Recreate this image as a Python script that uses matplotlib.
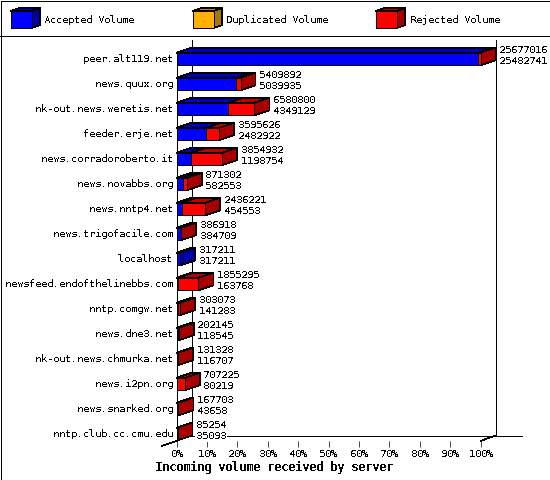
#!/usr/bin/env python3

"""
Incoming volume received by server - pseudo 3D stacked bars
"""

import matplotlib
matplotlib.use('Agg')
import matplotlib.pyplot as plt
from matplotlib.patches import Polygon, Rectangle

servers = [
    'peer.alt119.net', 'news.quux.org', 'nk-out.news.weretis.net',
    'feeder.erje.net', 'news.corradoroberto.it', 'news.novabbs.org',
    'news.nntp4.net', 'news.trigofacile.com', 'localhost',
    'newsfeed.endofthelinebbs.com', 'nntp.comgw.net', 'news.dne3.net',
    'nk-out.news.chmurka.net', 'news.i2pn.org', 'news.snarked.org',
    'nntp.club.cc.cmu.edu',
]
total_volume = [
    25677016, 5409892, 6580800, 3595626, 3854932, 871302, 2436221, 386918,
    317211, 1855295, 303073, 202145, 131328, 707225, 167703, 85254,
]
accepted_volume = [
    25482741, 5039935, 4349129, 2482922, 1198754, 582553, 454553, 384709,
    317211, 163768, 141283, 118545, 116707, 80219, 43658, 35093,
]
pct_ticks = list(range(0, 101, 10))
legend_labels = ['Accepted Volume', 'Duplicated Volume', 'Rejected Volume']

BLUE, BLUE_TOP, BLUE_SIDE = '#0000ff', '#0000c0', '#0000a8'
RED, RED_TOP, RED_SIDE = '#ff0000', '#c00000', '#a80000'
ORANGE, ORANGE_TOP, ORANGE_SIDE = '#ffb000', '#c08800', '#a87800'

W, H = 550, 480
LEFT, RIGHT = 176.5, 480.5  # 0% and 100% on the front plane, pixels
TOP, BOTTOM = 53, 441       # front plane, pixels
DX, DY = 15, 5              # depth of the 3D effect, pixels
ROW_H, BAR_H = 25, 12.5
LW = 0.5                    # thin enough for one pixel without antialiasing
FS = 7.2
EDGE = dict(ec='black', lw=LW, antialiased=False, clip_on=False)

plt.rcParams['font.family'] = ['DejaVu Sans Mono']
plt.rcParams['text.antialiased'] = False
plt.rcParams['text.hinting'] = 'native'
plt.rcParams['text.hinting_factor'] = 1

fig = plt.figure(figsize=(W / 100, H / 100), dpi=100)

# whole-figure pixel axes for frame, legend and plot walls
frame = fig.add_axes([0, 0, 1, 1])
frame.set_xlim(0, W)
frame.set_ylim(H, 0)
frame.axis('off')
frame.add_patch(Rectangle((0.5, 0.5), W - 1, H - 1, fill=False, **EDGE))


def line(xs, ys):
    frame.plot(xs, ys, color='black', lw=LW, antialiased=False)


line([0, W], [35.5, 35.5])


def legend_box(x, front, top, side):
    y0, y1, w, dx, dy = 11, 28, 21, 8, 3
    frame.add_patch(Polygon([(x, y0), (x + dx, y0 - dy), (x + w + dx, y0 - dy), (x + w, y0)],
                            fc=top, **EDGE))
    frame.add_patch(Polygon([(x + w, y0), (x + w + dx, y0 - dy), (x + w + dx, y1 - dy), (x + w, y1)],
                            fc=side, **EDGE))
    frame.add_patch(Rectangle((x, y0), w, y1 - y0, fc=front, **EDGE))


legend_x = [11, 193, 376]
legend_colors = [(BLUE, BLUE_TOP, BLUE_SIDE), (ORANGE, ORANGE_TOP, ORANGE_SIDE), (RED, RED_TOP, RED_SIDE)]
for x, label, colors in zip(legend_x, legend_labels, legend_colors):
    legend_box(x, *colors)
    frame.text(x + 33.5, 20, label, fontsize=FS, va='center', ha='left')

# plot walls
line([191.5, 191.5], [40, 435])
line([495.5, 495.5], [40, 435])
line([LEFT, LEFT], [TOP, BOTTOM])
line([191.5, 522], [435.5, 435.5])
line([RIGHT, RIGHT + DX], [BOTTOM, 435.5])
line([LEFT - DX, LEFT], [BOTTOM + DY, BOTTOM])

# data axes on the front plane: x in percent, y in row number
ax = fig.add_axes([LEFT / W, 1 - BOTTOM / H, (RIGHT - LEFT) / W, (BOTTOM - TOP) / H])
ax.set_xlim(0, 100)
ax.set_ylim((BOTTOM - 59) / ROW_H, (TOP - 59) / ROW_H)
ax.patch.set_alpha(0)
for spine in ax.spines.values():
    spine.set_visible(False)
ax.set_yticks([])
ax.set_xticks(pct_ticks)
ax.set_xticklabels([f'{p}%' for p in pct_ticks], fontsize=FS)
ax.tick_params(axis='x', length=4, width=LW, pad=2)

px_x = 100 / (RIGHT - LEFT)
depth_x = DX * px_x
depth_y = DY / ROW_H
half = BAR_H / 2 / ROW_H
scale = 100 / max(total_volume)


def draw_bar(row, total, accepted):
    end = total * scale
    split = accepted * scale
    y0, y1 = row - half, row + half
    top_y = y0 - depth_y
    rejected = total - accepted

    # top faces first, then the side, then the front
    ax.add_patch(Polygon([(0, y0), (depth_x, top_y), (split + depth_x, top_y), (split, y0)],
                         fc=BLUE_TOP, **EDGE))
    if rejected > 0:
        ax.add_patch(Polygon([(split, y0), (split + depth_x, top_y), (end + depth_x, top_y), (end, y0)],
                             fc=RED_TOP, **EDGE))
    side = RED_SIDE if rejected > 0 else BLUE_SIDE
    ax.add_patch(Polygon([(end, y0), (end + depth_x, top_y), (end + depth_x, y1 - depth_y), (end, y1)],
                         fc=side, **EDGE))
    ax.add_patch(Rectangle((0, y0), split, BAR_H / ROW_H, fc=BLUE, **EDGE))
    if rejected > 0:
        ax.add_patch(Rectangle((split, y0), end - split, BAR_H / ROW_H, fc=RED, **EDGE))

    # server name and the two values
    ax.text(-4 * px_x, row, servers[row], fontsize=FS, ha='right', va='center', clip_on=False)
    label_x = end + depth_x + 3.5 * px_x
    bbox = dict(fc='white', ec='none', pad=0.5)
    ax.text(label_x, row - 0.36, str(total), fontsize=FS, ha='left', va='center', bbox=bbox, zorder=5)
    ax.text(label_x, row + 0.08, str(accepted), fontsize=FS, ha='left', va='center', bbox=bbox, zorder=5)


for row in range(len(servers)):
    draw_bar(row, total_volume[row], accepted_volume[row])

frame.text(274, 467, 'Incoming volume received by server', fontsize=8.4, fontweight='bold',
           ha='center', va='center')

fig.savefig('out.png', dpi=100)
plt.close(fig)
